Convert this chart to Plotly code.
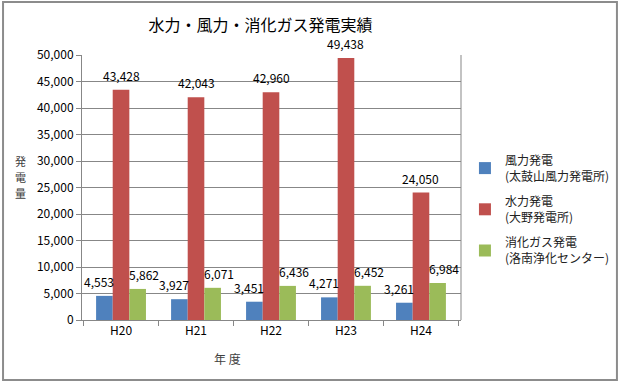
import plotly.graph_objects as go

years = ["H20", "H21", "H22", "H23", "H24"]
wind = [4553, 3927, 3451, 4271, 3261]
hydro = [43428, 42043, 42960, 49438, 24050]
gas = [5862, 6071, 6436, 6452, 6984]
names = ["風力発電<br>(太鼓山風力発電所)", "水力発電<br>(大野発電所)", "消化ガス発電<br>(洛南浄化センター)"]
colors = ["#4F81BD", "#C0504D", "#9BBB59"]
yticks = [0, 5000, 10000, 15000, 20000, 25000, 30000, 35000, 40000, 45000, 50000]
y_title_chars = ["発", "電", "量"]

FONT = "Noto Sans CJK JP"
fig = go.Figure()
for i, (vals, nm) in enumerate(zip([wind, hydro, gas], names)):
    fig.add_trace(go.Bar(
        x=years, y=vals, name=nm, marker_color=colors[i], marker_line_width=0,
        cliponaxis=False, legendgroup=f"g{i}",
    ))

W, H = 627, 384
l, r, t, b = 82, 161, 55, 64
pw, ph = W - l - r, H - t - b
bar_px = pw / len(years) * (1 - 0.335) / 3

# data labels: one per bar, placed over each bar through the category axis
label_shift = [-bar_px - 5, 0, bar_px + 6]
for i, vals in enumerate([wind, hydro, gas]):
    for yr, v in zip(years, vals):
        fig.add_annotation(x=yr, y=v, xref="x", yref="y", text=f"{v:,}",
                           showarrow=False, xshift=label_shift[i], yshift=4,
                           yanchor="bottom", xanchor="center",
                           font=dict(family=FONT, size=12, color="black"))


def px_x(x):
    return (x - l) / pw


def px_y(y):
    return (H - b - y) / ph


fig.update_layout(
    width=W, height=H,
    margin=dict(l=l, r=r, t=t, b=b),
    paper_bgcolor="white", plot_bgcolor="white",
    font=dict(family=FONT, size=12, color="black"),
    barmode="group", bargap=0.335, bargroupgap=0,
    title=dict(text="水力・風力・消化ガス発電実績", x=260.5 / W, xanchor="center",
               y=1 - 25.5 / H, yanchor="middle",
               font=dict(family=FONT, size=16, color="black")),
    xaxis=dict(showline=True, linecolor="#878787", linewidth=1, ticks="outside",
               tickson="boundaries", ticklen=5, tickcolor="#878787",
               tickfont=dict(size=12), mirror=False),
    yaxis=dict(range=[0, 50000], tickvals=yticks, tickformat=",", showgrid=True,
               gridcolor="#878787", gridwidth=1, showline=True, linecolor="#878787",
               ticks="outside", ticklen=5, tickcolor="#878787", zeroline=False,
               tickfont=dict(size=12)),
    legend=dict(x=px_x(470), y=px_y(146), xanchor="left", yanchor="top",
                font=dict(family=FONT, size=12, color="#222"), tracegroupgap=7,
                itemwidth=30, bgcolor="rgba(0,0,0,0)"),
    showlegend=True,
)

# right frame line of plot area
fig.add_shape(type="line", xref="paper", yref="paper", x0=1, x1=1, y0=0, y1=1,
              line=dict(color="#878787", width=1))
# outer border
fig.add_shape(type="rect", xref="paper", yref="paper",
              x0=px_x(2), x1=px_x(624), y0=px_y(380), y1=px_y(2),
              line=dict(color="#8c8c8c", width=2), layer="below")
# axis titles (vertical y title, one character per line)
for k, ch in enumerate(y_title_chars):
    fig.add_annotation(text=ch, xref="paper", yref="paper", x=px_x(20), y=px_y(161 + 16 * k),
                       showarrow=False, font=dict(family=FONT, size=11, color="#404040"),
                       xanchor="center", yanchor="middle")
fig.add_annotation(text="年 度", xref="paper", yref="paper", x=px_x(229), y=px_y(358),
                   showarrow=False, font=dict(family=FONT, size=12, color="#404040"),
                   xanchor="center", yanchor="middle")

fig.write_html("out.html", config={"displayModeBar": False},
               post_script="document.body.style.margin='0';document.body.style.overflow='hidden';")
